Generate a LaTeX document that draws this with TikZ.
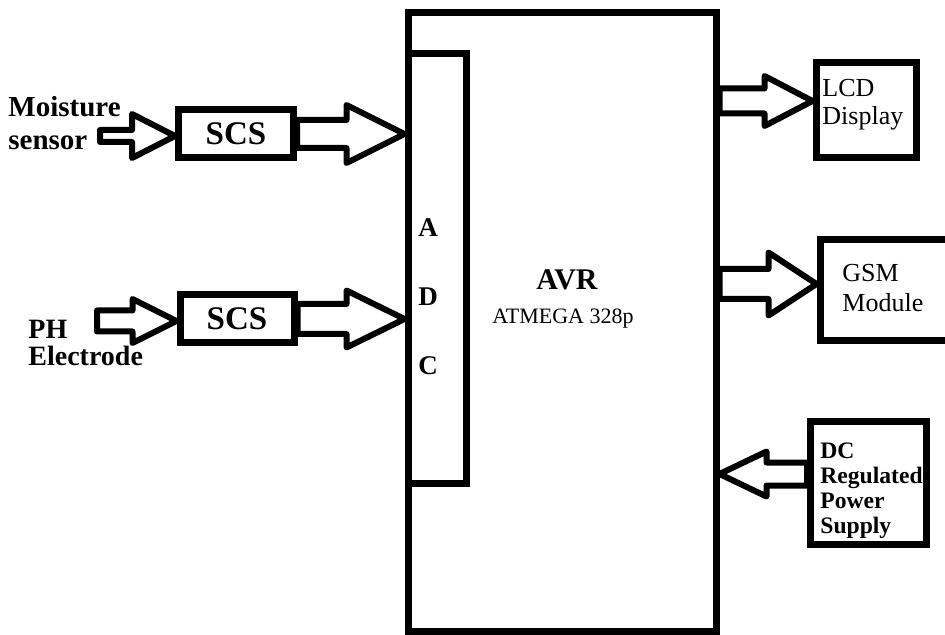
\documentclass[tikz,border=0pt]{standalone}
\usepackage{fontspec}
\setmainfont{Liberation Serif}
\usetikzlibrary{calc,positioning}

\tikzset{
  blk/.style={draw,line width=3.5pt,inner sep=0pt},
  fatarrow/.style n args={3}{draw,line width=3pt,line join=round,
    to path={let \p1=(\tikztostart),\p2=(\tikztotarget),\n1={sign(\x2-\x1)} in
      (\x1,{\y1+#1}) -- ({\x2-\n1*#3},{\y1+#1}) -- ({\x2-\n1*#3},{\y1+#2}) -- (\x2,\y1)
      -- ({\x2-\n1*#3},{\y1-#2}) -- ({\x2-\n1*#3},{\y1-#1}) -- (\x1,{\y1-#1}) -- cycle}},
  txt/.style={inner sep=0pt,align=left,anchor=base west},
}

\begin{document}
\begin{tikzpicture}[x=0.5pt,y=-0.5pt]
  \useasboundingbox (0,0) rectangle (945,635);

  %% Controller with ADC strip
  \node[blk,minimum width=154pt,minimum height=309pt] (avr) at (562,322) {};
  \node[blk,minimum width=29pt,minimum height=214.5pt] (adc) at (437,268.5) {};
  \node[font=\fontsize{13.5}{15}\selectfont\bfseries,anchor=base] (adca) at (428,237) {A};
  \node[font=\fontsize{13.5}{15}\selectfont\bfseries,anchor=base] (adcd) at (428,306) {D};
  \node[font=\fontsize{13.5}{15}\selectfont\bfseries,anchor=base] (adcc) at (428,374) {C};
  \node[font=\fontsize{15}{17}\selectfont\bfseries,anchor=base] (avrname) at (567,290) {AVR};
  \node[font=\fontsize{11}{13}\selectfont,anchor=base] (avrchip) at (563,323.5) {ATMEGA 328p};

  %% Sensor side (base = last line)
  \node[txt,font=\fontsize{14.5}{16.5}\selectfont\bfseries] (moist) at (8,150) {Moisture\\sensor};
  \node[txt,font=\fontsize{14}{13.5}\selectfont\bfseries] (ph) at (28,365) {PH\\Electrode};
  \node[blk,minimum width=57.5pt,minimum height=24pt,
        font=\fontsize{16.5}{18}\selectfont\bfseries] (scs1) at (236,134) {SCS};
  \node[blk,minimum width=57pt,minimum height=24pt,
        font=\fontsize{16.5}{18}\selectfont\bfseries] (scs2) at (237,319) {SCS};
  \coordinate (moistout) at (100,136);
  \coordinate (phout) at (97,321);

  \draw[fatarrow={3pt}{11pt}{21.5pt}] (moistout) to (scs1.west);
  \draw[fatarrow={7pt}{14.5pt}{29pt}] (scs1.east) to (adc.west);
  \draw[fatarrow={5.25pt}{11pt}{22pt}] (phout) to (scs2.west);
  \draw[fatarrow={7.5pt}{14.25pt}{29pt}] (scs2.east) to (adc.west);

  %% Output side
  \node[blk,minimum width=50pt,minimum height=47.5pt] (lcd) at (866,110.5) {};
  \node[txt,font=\fontsize{13}{14}\selectfont] (lcdtxt) at (822,125) {LCD\\Display};
  \node[blk,minimum width=90pt,minimum height=50.5pt] (gsm) at (910,290.5) {};
  \node[txt,font=\fontsize{13}{15}\selectfont] (gsmtxt) at (842,312) {GSM\\Module};
  \node[blk,minimum width=58pt,minimum height=61.5pt] (dc) at (868.5,483) {};
  \node[txt,font=\fontsize{11.8}{12.5}\selectfont\bfseries] (dctxt) at (820,533) {DC\\Regulated\\Power\\Supply};

  \draw[fatarrow={6.25pt}{12.5pt}{24pt}] (avr.east |- 0,101) to (lcd.west);
  \draw[fatarrow={7.5pt}{15.75pt}{24pt}] (avr.east |- 0,284) to (gsm.west);
  \draw[fatarrow={5.75pt}{11.25pt}{23.5pt}] (dc.west |- 0,474) to (avr.east);
\end{tikzpicture}
\end{document}
